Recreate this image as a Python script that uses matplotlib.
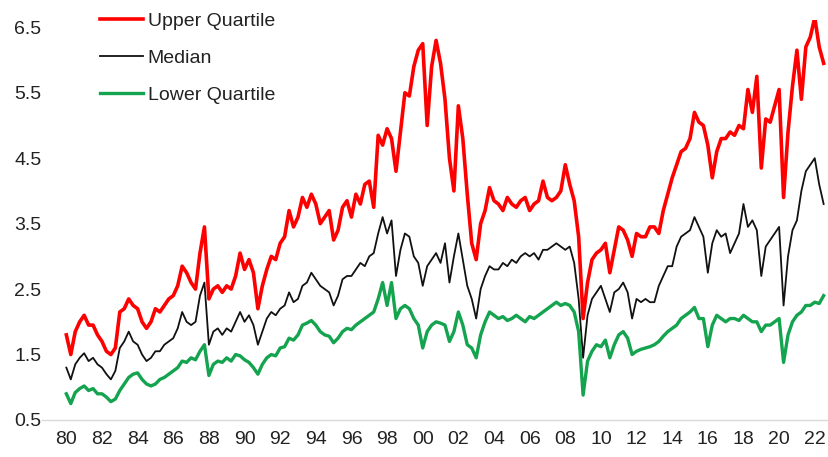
import numpy as np
import matplotlib
matplotlib.use("Agg")
import matplotlib.pyplot as plt

# ---------------------------------------------------------------------------
# Data (quarterly readings, 1980Q1 .. 2022Q3)
# ---------------------------------------------------------------------------
START_YEAR = 1980

upper_quartile = [
    1.80, 1.50, 1.85, 2.00,  2.10, 1.95, 1.95, 1.80,  1.70, 1.55, 1.50, 1.60,
    2.15, 2.20, 2.35, 2.25,  2.20, 2.00, 1.90, 2.00,  2.20, 2.15, 2.25, 2.35,
    2.40, 2.55, 2.85, 2.75,  2.60, 2.50, 3.05, 3.45,  2.35, 2.50, 2.55, 2.45,
    2.55, 2.50, 2.70, 3.05,  2.80, 2.95, 2.75, 2.20,  2.55, 2.80, 3.00, 2.95,
    3.20, 3.30, 3.70, 3.45,  3.60, 3.90, 3.75, 3.95,  3.80, 3.50, 3.60, 3.70,
    3.25, 3.40, 3.75, 3.85,  3.60, 3.95, 3.80, 4.10,  4.15, 3.75, 4.85, 4.70,
    4.95, 4.80, 4.30, 4.90,  5.50, 5.45, 5.90, 6.15,  6.25, 5.00, 5.90, 6.30,
    5.95, 5.40, 4.50, 4.00,  5.30, 4.80, 3.95, 3.20,  2.95, 3.50, 3.70, 4.05,
    3.85, 3.80, 3.70, 3.90,  3.80, 3.75, 3.85, 3.90,  3.70, 3.80, 3.85, 4.15,
    3.90, 3.85, 3.90, 4.00,  4.40, 4.10, 3.85, 3.30,  2.05, 2.60, 2.95, 3.05,
    3.10, 3.20, 2.75, 3.10,  3.45, 3.40, 3.25, 3.00,  3.35, 3.30, 3.30, 3.45,
    3.45, 3.35, 3.70, 3.95,  4.20, 4.40, 4.60, 4.65,  4.80, 5.20, 5.05, 5.00,
    4.70, 4.20, 4.60, 4.80,  4.80, 4.90, 4.85, 5.00,  4.95, 5.55, 5.20, 5.75,
    4.35, 5.10, 5.05, 5.30,  5.55, 3.90, 4.90, 5.60,  6.15, 5.40, 6.20, 6.35,
    6.65, 6.20, 5.95,
]

median = [
    1.30, 1.12, 1.35, 1.45,  1.52, 1.40, 1.45, 1.35,  1.30, 1.20, 1.12, 1.25,
    1.60, 1.70, 1.85, 1.70,  1.65, 1.50, 1.40, 1.45,  1.55, 1.55, 1.65, 1.70,
    1.75, 1.90, 2.15, 2.00,  1.95, 2.00, 2.40, 2.60,  1.65, 1.85, 1.90, 1.80,
    1.90, 1.85, 2.00, 2.15,  2.00, 2.10, 1.95, 1.65,  1.85, 2.05, 2.15, 2.10,
    2.20, 2.25, 2.45, 2.30,  2.35, 2.55, 2.60, 2.75,  2.65, 2.55, 2.50, 2.45,
    2.25, 2.40, 2.65, 2.70,  2.70, 2.80, 2.90, 2.85,  3.00, 3.05, 3.35, 3.60,
    3.35, 3.55, 2.70, 3.10,  3.35, 3.30, 3.00, 2.90,  2.55, 2.85, 2.95, 3.05,
    2.90, 3.20, 2.60, 3.00,  3.35, 2.95, 2.55, 2.35,  2.05, 2.50, 2.70, 2.85,
    2.80, 2.80, 2.90, 2.85,  2.95, 2.90, 3.00, 3.05,  3.00, 3.05, 2.95, 3.10,
    3.10, 3.15, 3.20, 3.15,  3.10, 3.15, 2.90, 2.35,  1.45, 2.10, 2.35, 2.45,
    2.55, 2.35, 2.15, 2.45,  2.50, 2.60, 2.45, 2.05,  2.35, 2.30, 2.35, 2.30,
    2.30, 2.55, 2.70, 2.85,  2.85, 3.15, 3.30, 3.35,  3.40, 3.60, 3.45, 3.30,
    2.75, 3.20, 3.40, 3.30,  3.35, 3.05, 3.20, 3.35,  3.80, 3.45, 3.55, 3.40,
    2.70, 3.15, 3.25, 3.35,  3.45, 2.25, 3.00, 3.40,  3.55, 4.00, 4.30, 4.40,
    4.50, 4.10, 3.80,
]

lower_quartile = [
    0.90, 0.75, 0.92, 0.98,  1.02, 0.95, 0.98, 0.90,  0.90, 0.85, 0.78, 0.82,
    0.95, 1.05, 1.15, 1.20,  1.22, 1.12, 1.05, 1.02,  1.05, 1.12, 1.15, 1.20,
    1.25, 1.30, 1.40, 1.38,  1.45, 1.42, 1.55, 1.65,  1.18, 1.35, 1.40, 1.38,
    1.45, 1.40, 1.50, 1.48,  1.42, 1.38, 1.30, 1.20,  1.35, 1.45, 1.50, 1.48,
    1.60, 1.62, 1.75, 1.72,  1.80, 1.95, 1.98, 2.02,  1.95, 1.85, 1.80, 1.78,
    1.68, 1.75, 1.85, 1.90,  1.88, 1.95, 2.00, 2.05,  2.10, 2.15, 2.35, 2.60,
    2.25, 2.60, 2.05, 2.20,  2.25, 2.20, 2.05, 1.95,  1.60, 1.85, 1.95, 2.00,
    1.98, 1.95, 1.70, 1.85,  2.15, 1.95, 1.65, 1.60,  1.45, 1.80, 2.00, 2.15,
    2.10, 2.05, 2.08, 2.02,  2.05, 2.10, 2.05, 2.00,  2.08, 2.05, 2.10, 2.15,
    2.20, 2.25, 2.30, 2.25,  2.28, 2.25, 2.15, 1.85,  0.88, 1.40, 1.55, 1.65,
    1.62, 1.72, 1.45, 1.65,  1.80, 1.85, 1.75, 1.50,  1.55, 1.58, 1.60, 1.62,
    1.65, 1.70, 1.78, 1.85,  1.90, 1.95, 2.05, 2.10,  2.15, 2.22, 2.05, 2.05,
    1.62, 1.95, 2.10, 2.05,  2.00, 2.05, 2.05, 2.02,  2.10, 2.05, 2.00, 2.00,
    1.85, 1.95, 1.95, 2.00,  2.05, 1.38, 1.80, 2.00,  2.10, 2.15, 2.25, 2.25,
    2.30, 2.28, 2.40,
]

tick_years = list(range(1980, 2023, 2))
tick_labels = [f"{y % 100:02d}" for y in tick_years]
y_ticks = [0.5, 1.5, 2.5, 3.5, 4.5, 5.5, 6.5]

years = START_YEAR + np.arange(len(median)) * 0.25

# ---------------------------------------------------------------------------
# Plot
# ---------------------------------------------------------------------------
plt.rcParams["font.family"] = ["Liberation Sans", "DejaVu Sans"]

fig = plt.figure(figsize=(8.29, 4.57), dpi=100)
ax = fig.add_axes([0.051, 0.081, 0.949, 0.875])

ax.plot(years, upper_quartile, color="#ff0000", lw=2.6, label="Upper Quartile")
ax.plot(years, median, color="#111111", lw=1.3, label="Median")
ax.plot(years, lower_quartile, color="#14a34e", lw=2.4, label="Lower Quartile")

ax.set_xlim(1978.65, 2022.8)
ax.set_ylim(0.5, 6.61)
ax.set_xticks(tick_years)
ax.set_xticklabels(tick_labels)
ax.set_yticks(y_ticks)
ax.set_yticklabels([f"{v:.1f}" for v in y_ticks])
ax.tick_params(axis="both", length=0, labelsize=14, colors="#222222")
ax.tick_params(axis="x", pad=8)
ax.tick_params(axis="y", pad=0.5)

for side in ["top", "right", "left"]:
    ax.spines[side].set_visible(False)
ax.spines["bottom"].set_color("#d9d9d9")
ax.spines["bottom"].set_linewidth(1.0)

leg = ax.legend(loc="upper left", bbox_to_anchor=(0.0635, 1.04), frameon=False,
                fontsize=14, handlelength=2.2, handletextpad=0.25,
                labelspacing=1.0, borderaxespad=0)
for txt in leg.get_texts():
    txt.set_color("#222222")

fig.savefig("out.png", dpi=100)
